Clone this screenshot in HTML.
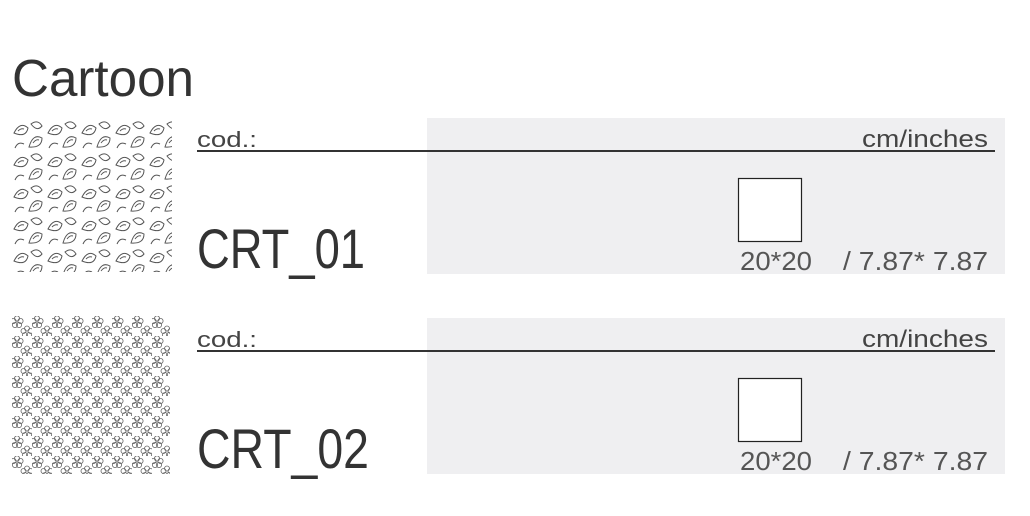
<!DOCTYPE html>
<html><head><meta charset="utf-8"><style>
html,body{margin:0;padding:0;background:#fff;}
svg{display:block;}
</style></head><body>
<svg width="1030" height="516" viewBox="0 0 1030 516" xmlns="http://www.w3.org/2000/svg" font-family="Liberation Sans, sans-serif">
<defs>
<pattern id="leaf" x="12" y="118" width="34" height="32" patternUnits="userSpaceOnUse">
<g fill="none" stroke="#555" stroke-width="1">
<path d="M2 15 q6 -12 14 -5 q-2 10 -14 5z"/>
<path d="M6 13 q3 -3 6 -2"/>
<path d="M17 29 q4 -14 13 -9 q0 10 -13 9z"/>
<path d="M21 25 q3 -4 6 -3"/>
<path d="M19 6 q7 -5 11 2 q-5 6 -11 -2z"/>
<path d="M3 30 q3 -7 9 -4"/>
</g>
</pattern>
<pattern id="flower" x="12" y="316" width="20" height="20" patternUnits="userSpaceOnUse">
<g fill="none" stroke="#666" stroke-width="0.8">
<circle cx="5" cy="2.5" r="2.6"/><circle cx="8.5" cy="5" r="2.6"/><circle cx="7" cy="9" r="2.6"/><circle cx="3" cy="9" r="2.6"/><circle cx="1.5" cy="5" r="2.6"/>
<circle cx="15" cy="12.5" r="2.5"/><circle cx="18.5" cy="15" r="2.5"/><circle cx="17" cy="19" r="2.5"/><circle cx="13" cy="19" r="2.5"/><circle cx="11.5" cy="15" r="2.5"/>
</g>
</pattern>
</defs>

<text x="12" y="96" font-size="52" fill="#333" textLength="182" lengthAdjust="spacingAndGlyphs">Cartoon</text>

<rect x="12" y="118" width="160" height="154" fill="url(#leaf)"/>
<rect x="427" y="118" width="578" height="156" fill="#efeff1"/>
<line x1="197" y1="151" x2="995" y2="151" stroke="#333" stroke-width="2"/>
<text x="197" y="147" font-size="22" fill="#444" textLength="60" lengthAdjust="spacingAndGlyphs">cod.:</text>
<text x="862" y="147" font-size="24" fill="#444" textLength="126" lengthAdjust="spacingAndGlyphs">cm/inches</text>
<text x="197" y="268" font-size="56" fill="#333" textLength="168" lengthAdjust="spacingAndGlyphs">CRT_01</text>
<rect x="738.5" y="178.5" width="63" height="63" fill="#fff" stroke="#222" stroke-width="1.2"/>
<text x="740" y="270" font-size="26" fill="#555" textLength="72" lengthAdjust="spacingAndGlyphs">20*20</text>
<text x="843" y="270" font-size="26" fill="#555" textLength="145" lengthAdjust="spacingAndGlyphs">/ 7.87* 7.87</text>

<rect x="12" y="316" width="158" height="158" fill="url(#flower)"/>
<rect x="427" y="318" width="578" height="156" fill="#efeff1"/>
<line x1="197" y1="351" x2="995" y2="351" stroke="#333" stroke-width="2"/>
<text x="197" y="347" font-size="22" fill="#444" textLength="60" lengthAdjust="spacingAndGlyphs">cod.:</text>
<text x="862" y="347" font-size="24" fill="#444" textLength="126" lengthAdjust="spacingAndGlyphs">cm/inches</text>
<text x="197" y="468" font-size="56" fill="#333" textLength="172" lengthAdjust="spacingAndGlyphs">CRT_02</text>
<rect x="738.5" y="378.5" width="63" height="63" fill="#fff" stroke="#222" stroke-width="1.2"/>
<text x="740" y="470" font-size="26" fill="#555" textLength="72" lengthAdjust="spacingAndGlyphs">20*20</text>
<text x="843" y="470" font-size="26" fill="#555" textLength="145" lengthAdjust="spacingAndGlyphs">/ 7.87* 7.87</text>
</svg>
</body></html>
